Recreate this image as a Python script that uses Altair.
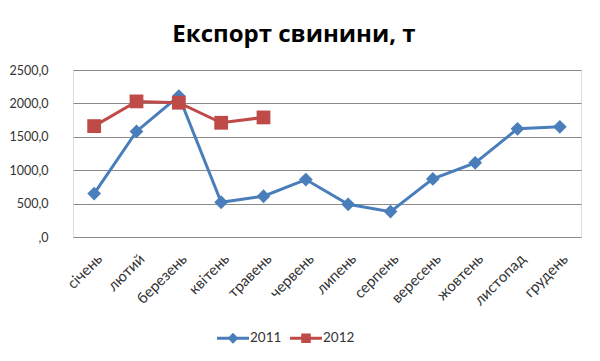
import altair as alt
import pandas as pd

months = ["січень", "лютий", "березень", "квітень", "травень", "червень",
          "липень", "серпень", "вересень", "жовтень", "листопад", "грудень"]
values_2011 = [650, 1580, 2110, 520, 610, 860, 490, 380, 870, 1110, 1620, 1650]
values_2012 = [1660, 2030, 2010, 1710, 1790]
series = ["2011", "2012"]
colors = ["#4a7ebb", "#be4b48"]
shapes = ["diamond", "square"]
# legend glyphs: a short line with the series marker on it
legend_shapes = [
    "M-1.6,-0.14H1.6V0.14H-1.6Z M0,-0.55L0.55,0L0,0.55L-0.55,0Z",
    "M-1.6,-0.14H1.6V0.14H-1.6Z M-0.48,-0.48H0.48V0.48H-0.48Z",
]

rows = []
for m, v in zip(months, values_2011):
    rows.append({"month": m, "year": "2011", "value": v})
for m, v in zip(months, values_2012):
    rows.append({"month": m, "year": "2012", "value": v})
df = pd.DataFrame(rows)
df["series"] = df["year"]

FONT = "Lato"

x_enc = alt.X("month:N", sort=months, title=None,
              axis=alt.Axis(labelAngle=-45, labelFontSize=15, labelColor="#333333",
                            labelFont=FONT, domain=False, ticks=False, grid=False,
                            labelPadding=19, labelOffset=5, labelAlign="right",
                            labelBaseline="middle"))
y_enc = alt.Y("value:Q", title=None,
              scale=alt.Scale(domain=[0, 2500], nice=False),
              axis=alt.Axis(values=[0, 500, 1000, 1500, 2000, 2500],
                            labelExpr="datum.value == 0 ? ',0' : replace(format(datum.value, '.1f'), '.', ',')",
                            labelFontSize=12.5, labelColor="#333333", labelFont=FONT,
                            domain=False, ticks=False, labelPadding=25,
                            gridColor="#8a8a8a", gridWidth=1))

base = alt.Chart(df).encode(x=x_enc, y=y_enc)

lines = base.mark_line(strokeWidth=3).encode(
    color=alt.Color("year:N", scale=alt.Scale(domain=series, range=colors), legend=None))
points = base.mark_point(filled=True, size=190, opacity=1).encode(
    color=alt.Color("year:N", scale=alt.Scale(domain=series, range=colors), legend=None),
    shape=alt.Shape("year:N", scale=alt.Scale(domain=series, range=shapes), legend=None),
)

leg = alt.Legend(orient="none", direction="horizontal", legendX=150, legendY=258,
                 title=None, symbolSize=400, symbolOpacity=1, symbolStrokeWidth=0,
                 labelFontSize=13.5, labelFont=FONT, labelColor="#333333",
                 labelOffset=7, columnPadding=8)
legend_layer = base.mark_point(filled=True, size=0, opacity=1).encode(
    color=alt.Color("series:N", scale=alt.Scale(domain=series, range=colors), legend=leg),
    shape=alt.Shape("series:N", scale=alt.Scale(domain=series, range=legend_shapes), legend=leg),
)

chart = (lines + points + legend_layer).resolve_scale(
    color="independent", shape="independent"
).properties(
    width=508, height=167,
    autosize=alt.AutoSizeParams(type="none"),
    padding={"left": 65, "top": 62, "right": 11, "bottom": 116},
    title=alt.TitleParams("Експорт свинини, т", font="Open Sans", fontSize=24, fontWeight="bold",
                          color="#000000", anchor="middle", dx=-33, offset=-2,
                          baseline="alphabetic"),
).configure_view(stroke=None).configure(background="white")

chart.save("out.html", embed_options={"renderer": "svg", "actions": False})
